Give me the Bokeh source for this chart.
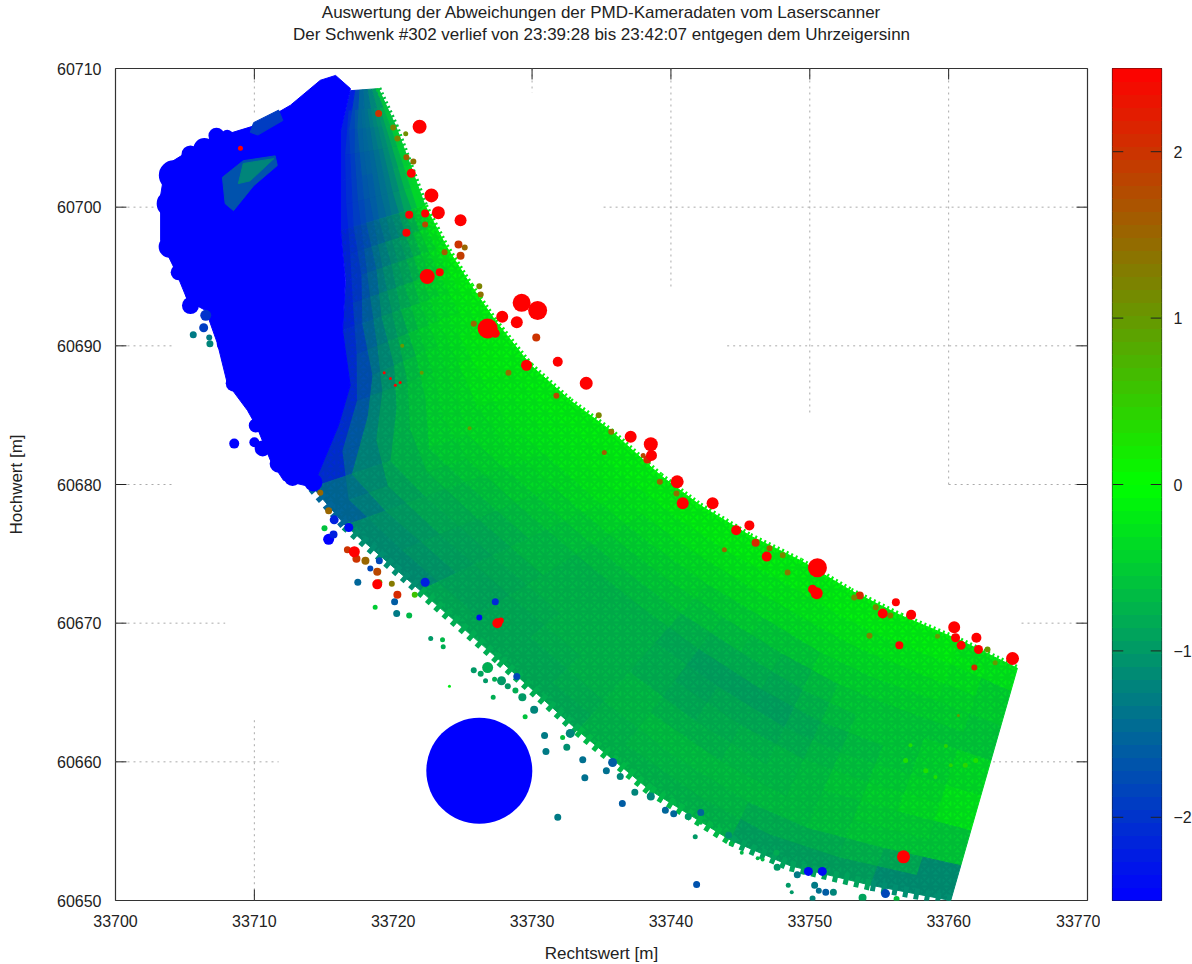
import numpy as np
from bokeh.plotting import figure
from bokeh.layouts import row
from bokeh.embed import file_html
from bokeh.resources import INLINE
from bokeh.models import Range1d, FixedTicker, Title, BasicTickFormatter

TITLE_1 = "Auswertung der Abweichungen der PMD-Kameradaten vom Laserscanner"
TITLE_2 = "Der Schwenk #302 verlief von 23:39:28 bis 23:42:07 entgegen dem Uhrzeigersinn"
X_LABEL = "Rechtswert [m]"
Y_LABEL = "Hochwert [m]"
X_TICKS = [33700, 33710, 33720, 33730, 33740, 33750, 33760, 33770]
Y_TICKS = [60650, 60660, 60670, 60680, 60690, 60700, 60710]
CB_TICKS = [-2, -1, 0, 1, 2]
E0, N0 = 33700, 60650   # all coordinates below are metres from this corner

# swath cross-sections: upper edge and lower edge of the scanned strip
upper_e = [18.94,20.16,21.24,22.3,23.8,25.6,27.35,29.9,32.75,35.65,39.25,42.1,45.7,49.35,52.95,56.55,60.85,64.95]
upper_n = [58.55,55.9,53.0,50.1,47.2,44.35,41.8,38.6,36.05,33.9,30.65,28.5,26.3,24.5,22.35,20.55,18.75,16.75]
lower_e = [16.92,16.2,16.2,16.2,16.6,16.35,16.9,16.05,14.2,16.55,21.95,27.7,33.3,38.5,44.3,48.6,54.4,60.15]
lower_n = [58.4,55.5,51.9,48.3,44.7,41.1,37.15,34.25,29.8,27.05,22.35,17.3,12.25,7.95,4.35,2.5,1.1,0.0]
band_edges = [0, .1, .25, .4, .55, .7, .85, 1]
swath_dev = [
 [-0.6,-1.0,-1.2,-1.4,-1.5,-1.8,-2.2],
 [-0.5,-1.0,-1.3,-1.5,-1.6,-1.9,-2.2],
 [-0.4,-0.9,-1.3,-1.5,-1.7,-1.9,-2.2],
 [-0.2,-0.5,-0.9,-1.1,-1.4,-1.8,-2.2],
 [-0.1,-0.3,-0.5,-0.8,-1.1,-1.6,-2.2],
 [-0.1,-0.2,-0.3,-0.5,-0.9,-1.4,-2.1],
 [-0.1,-0.1,-0.3,-0.4,-0.7,-1.2,-2.1],
 [-0.1,-0.2,-0.3,-0.4,-0.7,-1.2,-2.1],
 [-0.1,-0.2,-0.3,-0.5,-0.7,-1.0,-1.5],
 [-0.1,-0.2,-0.4,-0.6,-0.8,-0.9,-1.1],
 [-0.1,-0.3,-0.5,-0.7,-0.7,-0.8,-0.8],
 [-0.1,-0.3,-0.5,-0.7,-0.7,-0.7,-0.8],
 [-0.1,-0.3,-0.6,-0.9,-0.8,-0.6,-0.7],
 [-0.1,-0.3,-0.7,-0.9,-0.7,-0.6,-0.7],
 [-0.1,-0.3,-0.5,-0.7,-0.6,-0.6,-0.9],
 [-0.1,-0.3,-0.5,-0.5,-0.4,-0.5,-0.9],
 [-0.2,-0.4,-0.5,-0.3,-0.2,-0.5,-1.1],
]
# saturated negative block on the left
blue_e = [15.85,16.92,16.2,16.2,16.2,16.55,16.35,16.9,16.05,14.2,12.1,11.15,10.2,9.5,8.05,7.35,6.5,5.2,4.3,3.25,3.25,3.6,6.5,10.1,12.6,14.75]
blue_n = [59.5,58.55,55.5,51.9,48.3,44.7,41.1,37.15,34.25,29.8,30.3,31.75,34.1,35.35,37.3,40.15,42.55,43.25,45.45,47.6,50.85,53.0,54.8,55.9,57.35,59.15]
# strips of smaller deviation inside the block: (east list, north list, deviation)
strips = [
 ([9.95,11.75,12.05,10.25,9.7], [56.1,57.0,56.25,55.2,55.4], -1.9),
 ([7.7,9.2,11.5,11.65,9.95,8.5,7.9], [52.15,53.35,53.7,53.0,51.55,49.75,50.25], -1.7),
 ([9.2,11.4,9.7,8.85], [53.15,53.5,51.9,51.7], -1.2),
]
# single points: (east, north, deviation, drawn diameter)
big_neg = [
 (26.2,9.35,-2.5,106),(8.04,55.15,-2.5,12),(7.27,55.15,-2.5,16),(5.4,53.8,-2.5,18),(6.4,54.2,-2.5,22),(4.2,52.3,-2.5,30),
 (3.9,50.25,-2.5,26),(3.9,47.15,-2.5,22),(4.55,45.3,-2.5,16),(5.4,42.9,-2.5,17),(5.6,43.75,-2.5,16),(4.4,49,-2.5,24),
 (7.9,40.15,-2.5,17),(8.2,39.1,-2.5,16),(8.55,37.3,-2.5,17),(10.1,34.25,-2.5,14),(10.0,33.05,-2.5,10),
 (8.55,32.95,-2.5,10),(10.6,32.6,-2.5,16),(11.75,31.5,-2.5,18),(12.75,30.5,-2.5,17),(14.25,30.15,-2.5,18),
 (6.5,42.2,-2.0,11),(6.35,41.3,-1.9,9),(5.6,40.8,-1.3,7),(6.8,40.15,-1.2,7),(6.75,40.6,-1.3,6),
]
high_pos = [
 (21.9,55.8,14),(22.75,50.85,14),(23.25,49.6,13),(24.85,49.05,12),(21.3,52.45,9),(22.3,49.55,8),(21.15,49.45,8),
 (20.95,48.15,8),(22.45,45.0,15),(23.35,45.3,8),(29.25,43.1,18),(30.4,42.55,19),(27.85,42.1,12),(28.9,41.7,12),
 (26.8,41.25,20),(27.35,40.9,9),(29.6,38.6,11),(31.85,38.85,10),(33.9,37.3,13),(37.1,33.45,12),(38.55,32.9,14),
 (38.6,32.1,11),(40.45,30.2,13),(40.85,28.65,12),(43.0,28.65,12),(44.7,26.7,10),(45.65,27.05,10),(46.9,24.8,10),
 (50.55,24.0,19),(50.2,22.45,9),(50.5,22.15,12),(56.2,21.5,8),(55.25,20.7,10),(57.3,20.6,10),(60.4,19.7,12),
 (60.5,18.95,9),(60.9,18.4,9),(62.0,18.95,10),(62.15,18.1,9),(64.6,17.45,13),(56.45,18.4,8),(56.75,3.15,13),
 (9.0,54.25,5),(17.2,25.15,11),(18.85,22.8,10),(27.5,20.0,10),(27.75,20.2,6),
 (19.8,37.65,3),(20.15,37.15,3),(19.35,38.05,3),(20.5,37.35,3),
]
mid_pos = [
 (20.3,22.05,2.1,8),(46.1,25.8,2.1,8),(53.6,22.0,2.1,8),(61.85,16.8,2.1,6),(16.7,25.3,2.0,7),
 (18.95,56.75,2.0,7),(20.0,55.75,1.2,6),(20.3,54.95,1.2,6),(20.9,55.3,1.1,5),(20.95,53.6,1.6,6),(21.45,53.3,1.4,6),
 (22.3,48.75,1.8,6),(24.7,47.3,2.0,8),(25.15,47.1,1.5,6),(24.85,46.5,1.9,8),(23.7,46.75,1.6,6),(26.2,44.3,1.2,6),
 (26.3,43.7,1.4,6),(25.8,41.6,1.5,6),(30.3,40.6,2.0,8),(28.3,38.05,1.4,6),(31.75,36.4,1.8,6),(20.65,40.0,1.0,4),
 (22.05,38.05,1.0,4),(25.5,34.05,1.0,4),(34.8,35.0,1.2,6),(35.7,33.8,1.4,6),(35.2,32.3,1.6,5),(38.0,32.1,1.8,5),
 (39.2,30.2,1.5,6),(40.4,29.35,1.4,6),(38.3,31.8,2.1,8),(47.1,25.4,1.6,6),(48.05,24.9,1.2,6),(48.4,23.65,1.3,6),
 (54.75,21.15,1.2,6),(53.2,21.85,1.2,6),(62.8,18.1,1.0,6),(59.2,19.05,1.0,5),(54.3,19.1,1.2,6),(63.35,17.15,1.0,5),
 (55.8,20.55,1.3,6),(43.85,25.3,1.5,5),(17.35,24.65,2.0,8),(18.0,24.5,1.5,8),(18.85,23.7,1.8,8),(19.0,22.95,1.0,6),
 (19.9,22.85,1.3,6),(21.55,22.05,0.6,6),(14.75,29.4,1.5,6),(15.35,28.1,1.5,7),
 (56.9,10.1,0.3,5),(58.35,9.35,0.3,5),(59.8,11.15,0.4,4),(61.2,9.75,0.4,5),(61.95,10.1,0.3,5),(57.25,11.2,0.3,4),
 (59.05,8.9,0.3,4),(60.15,9.75,0.4,4),(60.7,13.35,1.0,3),
]
low_neg = [
 (15.35,26.05,-2.5,11),(15.7,26.4,-2.2,8),(16.8,26.9,-2.4,9),(15.75,27.45,-2.2,9),(15.05,26.85,-0.6,6),
 (19.0,24.5,-1.8,7),(18.35,23.95,-1.8,6),(22.3,22.95,-2.2,9),(17.45,22.95,-1.5,7),(18.7,21.15,-0.5,5),
 (20.1,21.55,-1.6,7),(20.25,20.7,-1.3,7),(21.15,20.55,-0.7,6),(27.35,21.55,-2.1,7),(26.2,20.4,-2.4,6),
 (49.9,2.1,-2.4,9),(50.9,2.1,-2.4,9),(41.85,1.15,-1.7,7),
 (22.7,18.9,-1.0,5),(23.55,18.8,-0.7,5),(23.6,18.3,-0.8,5),(25.8,16.6,-1.0,6),(26.3,16.35,-0.9,6),(26.65,15.85,-1.0,5),
 (26.8,16.8,-0.8,11),(27.3,15.95,-0.8,5),(27.8,15.85,-1.0,9),(28.25,15.45,-1.0,6),(28.9,16.15,-1.8,7),(28.8,15.15,-0.8,6),
 (29.3,14.65,-1.0,8),(30.15,13.75,-1.2,8),(30.9,11.9,-1.3,7),(31.0,10.75,-1.3,7),(32.5,11.05,-1.1,7),(31.85,6.0,-1.3,7),
 (27.2,14.65,-0.8,5),(29.5,13.25,-0.6,5),(24.05,15.45,-0.2,3),(32.2,11.75,-0.6,5),(32.75,12.05,-1.2,9),(33.65,10.15,-1.4,7),
 (33.8,8.85,-1.4,7),(35.35,9.35,-1.4,7),(35.8,9.95,-1.6,9),(36.35,8.95,-1.2,7),(36.5,7.0,-1.6,7),(37.4,7.8,-1.2,7),
 (38.55,7.5,-1.2,8),(39.6,6.5,-1.5,7),(40.2,6.25,-1.5,7),(41.25,6.05,-1.0,7),(42.15,6.35,-1.5,7),(41.75,4.6,-1.0,5),
 (42.15,5.6,-0.7,4),(44.15,4.7,-1.1,7),(44.35,4.1,-0.7,5),(45.1,3.45,-0.7,4),(46.25,3.05,-0.7,4),(46.6,2.95,-0.7,4),
 (47.6,3.45,-0.8,6),(47.65,2.4,-1.0,7),(48.45,1.1,-1.0,5),(48.7,0.6,-1.0,4),(49.1,1.85,-1.3,7),(50.35,1.1,-1.3,7),
 (50.65,0.7,-1.4,6),(51.15,0.6,-1.6,7),(51.7,0.6,-1.2,7),(50.2,0.15,-1.2,6),(53.8,0.2,-0.9,8),(55.45,0.5,-1.8,9),(56.25,0.1,-0.6,6),
]
# the parts of the dotted grid that are visible
grid_v = [(10,60,56.6),(10,13,0),(30,60,58.25),(40,60,44),(50,60,35.1),(60,60,30)]
grid_h = [(50,0,3.25),(50,35.15,70),(40,0,4.05),(40,44.05,70),(30,0,4.05),(30,60,70),(20,0,7.9),(20,65.25,70),(10,0,11.75),(10,63.2,70)]
tick_top = [10, 30, 40, 50, 60]
tick_bottom = [10, 60]
tick_side = [10, 20, 30, 40, 50]

FONT = "Liberation Sans"
TXT = "#222222"

def dev_color(v):
    t = min(abs(v) / 2.5, 1.0)
    g = int(round(255 * (1 - t)))
    s = int(round(255 * t))
    return "#%02x%02x%02x" % ((s, g, 0) if v > 0 else (0, g, s))

p = figure(frame_width=972, frame_height=832, output_backend="svg", toolbar_location=None,
           x_range=Range1d(E0, E0 + 70), y_range=Range1d(N0, N0 + 60),
           min_border_left=115, min_border_right=13, min_border_top=68, min_border_bottom=60,
           x_axis_label=X_LABEL, y_axis_label=Y_LABEL)
p.grid.visible = False
p.outline_line_color = "#333333"
p.outline_line_width = 1.2
for ax, ticks in ((p.xaxis[0], X_TICKS), (p.yaxis[0], Y_TICKS)):
    ax.ticker = FixedTicker(ticks=ticks)
    ax.formatter = BasicTickFormatter(use_scientific=False)
    ax.major_tick_in = 0
    ax.major_tick_out = 0
    ax.minor_tick_in = 0
    ax.minor_tick_out = 0
    ax.axis_line_color = None
    ax.major_label_text_font = FONT
    ax.major_label_text_font_size = "16px"
    ax.major_label_text_color = TXT
    ax.axis_label_text_font = FONT
    ax.axis_label_text_font_size = "17px"
    ax.axis_label_text_font_style = "normal"
    ax.axis_label_text_color = TXT
p.xaxis[0].major_label_standoff = 14
p.xaxis[0].axis_label_standoff = 14
p.yaxis[0].major_label_standoff = 14
p.yaxis[0].axis_label_standoff = 28

title_style = dict(align="center", offset=4, text_font=FONT, text_font_size="17px",
                   text_font_style="normal", text_color=TXT)
p.title = Title(text=TITLE_1, standoff=1, **title_style)
p.add_layout(Title(text=" ", standoff=4, **title_style), "above")
p.add_layout(Title(text=TITLE_2, standoff=0, **title_style), "above")

# grid
gx0 = [E0 + g[0] for g in grid_v] + [E0 + g[1] for g in grid_h]
gx1 = [E0 + g[0] for g in grid_v] + [E0 + g[2] for g in grid_h]
gy0 = [N0 + g[1] for g in grid_v] + [N0 + g[0] for g in grid_h]
gy1 = [N0 + g[2] for g in grid_v] + [N0 + g[0] for g in grid_h]
p.segment(gx0, gy0, gx1, gy1, line_color="#aaaaaa", line_width=1, line_dash="2 4")

# ticks (inward, only where the reference shows them)
TL = 0.79
tx0 = [E0 + t for t in tick_top] + [E0 + t for t in tick_bottom] + [E0] * len(tick_side) + [E0 + 70] * len(tick_side)
tx1 = [E0 + t for t in tick_top] + [E0 + t for t in tick_bottom] + [E0 + TL] * len(tick_side) + [E0 + 70 - TL] * len(tick_side)
ty0 = [N0 + 60] * len(tick_top) + [N0] * len(tick_bottom) + [N0 + t for t in tick_side] * 2
ty1 = [N0 + 60 - TL] * len(tick_top) + [N0 + TL] * len(tick_bottom) + [N0 + t for t in tick_side] * 2
p.segment(tx0, ty0, tx1, ty1, line_color="#222222", line_width=1)

def pt(k, t):
    return (upper_e[k] + (lower_e[k] - upper_e[k]) * t, upper_n[k] + (lower_n[k] - upper_n[k]) * t)

# swath mesh
xs, ys, cols = [], [], []
for i, row_vals in enumerate(swath_dev):
    for j, v in enumerate(row_vals):
        a, b = band_edges[j], band_edges[j + 1]
        q = [pt(i, a), pt(i + 1, a), pt(i + 1, b), pt(i, b)]
        xs.append([E0 + c[0] for c in q])
        ys.append([N0 + c[1] for c in q])
        cols.append(dev_color(v))
p.patches(xs, ys, fill_color=cols, line_color=cols, line_width=1)

# the same readings once more, half a cell further on and half covering, to soften the cell borders
xs2, ys2, cols2 = [], [], []
for i, row_vals in enumerate(swath_dev[:-1]):
    for j, v in enumerate(row_vals[:-1]):
        a = (band_edges[j] + band_edges[j + 1]) / 2
        b = (band_edges[j + 1] + band_edges[j + 2]) / 2
        p00, p01 = pt(i, a), pt(i + 1, a)
        p10, p11 = pt(i, b), pt(i + 1, b)
        p20, p21 = pt(i + 2, a), pt(i + 2, b)
        q = [((p00[0] + p01[0]) / 2, (p00[1] + p01[1]) / 2), ((p01[0] + p20[0]) / 2, (p01[1] + p20[1]) / 2),
             ((p11[0] + p21[0]) / 2, (p11[1] + p21[1]) / 2), ((p10[0] + p11[0]) / 2, (p10[1] + p11[1]) / 2)]
        xs2.append([E0 + c[0] for c in q])
        ys2.append([N0 + c[1] for c in q])
        cols2.append(dev_color(v))
p.patches(xs2, ys2, fill_color=cols2, fill_alpha=0.5, line_color=None)

# lattice texture of the scan on top of the colour field
p.patch([E0 + v for v in upper_e[3:]] + [E0 + v for v in lower_e[3:][::-1]],
        [N0 + v for v in upper_n[3:]] + [N0 + v for v in lower_n[3:][::-1]],
        fill_color=None, fill_alpha=0, line_color=None,
        hatch_pattern="criss_cross", hatch_color="#004a50", hatch_alpha=0.13, hatch_scale=11, hatch_weight=2.5)

# ragged outer edges of the scan
p.multi_line([[E0 + upper_e[i], E0 + upper_e[i + 1]] for i in range(0, 17)],
             [[N0 + upper_n[i], N0 + upper_n[i + 1]] for i in range(0, 17)],
             line_color=[dev_color(swath_dev[i][0]) for i in range(0, 17)], line_width=6, line_dash="2 3")
p.multi_line([[E0 + lower_e[i], E0 + lower_e[i + 1]] for i in range(8, 17)],
             [[N0 + lower_n[i], N0 + lower_n[i + 1]] for i in range(8, 17)],
             line_color=[dev_color(swath_dev[i][6]) for i in range(8, 17)], line_width=11, line_dash="5 6")

# saturated block
p.patch([E0 + v for v in blue_e], [N0 + v for v in blue_n], fill_color="#0000ff", line_color="#0000ff")
for se, sn, d in strips:
    p.patch([E0 + v for v in se], [N0 + v for v in sn], fill_color=dev_color(d), line_color=dev_color(d))

# points
for group in (big_neg, low_neg, mid_pos):
    p.scatter([E0 + g[0] for g in group], [N0 + g[1] for g in group], size=[g[3] for g in group],
              marker="circle", fill_color=[dev_color(g[2]) for g in group], line_color=None)
p.scatter([E0 + g[0] for g in high_pos], [N0 + g[1] for g in high_pos], size=[g[2] for g in high_pos],
          marker="circle", fill_color="#ff0000", line_color=None)

# colour bar
levels = np.linspace(-2.5, 2.5, 65)
bar = figure(frame_width=49, frame_height=832, output_backend="svg", toolbar_location=None,
             x_range=Range1d(0, 1), y_range=Range1d(-2.5, 2.5), y_axis_location="right",
             min_border_left=12, min_border_right=30, min_border_top=68, min_border_bottom=60)
bar.grid.visible = False
bar.xaxis.visible = False
bar.outline_line_color = "#111111"
bar.outline_line_width = 1.2
bax = bar.yaxis[0]
bax.ticker = FixedTicker(ticks=CB_TICKS)
bax.major_tick_in = 0
bax.major_tick_out = 0
bax.minor_tick_in = 0
bax.minor_tick_out = 0
bax.axis_line_color = None
bax.major_label_standoff = 12
bax.major_label_text_font = FONT
bax.major_label_text_font_size = "16px"
bax.major_label_text_color = TXT
mids = (levels[:-1] + levels[1:]) / 2
bar_cols = [dev_color(v) for v in mids]
bar.quad(left=0, right=1, bottom=levels[:-1], top=levels[1:], fill_color=bar_cols, line_color=bar_cols)
bx0 = [0.0] * len(CB_TICKS) + [0.78] * len(CB_TICKS)
bx1 = [0.22] * len(CB_TICKS) + [1.0] * len(CB_TICKS)
by = CB_TICKS + CB_TICKS
bar.segment(bx0, by, bx1, by, line_color="#222222", line_width=1)

page = row(p, bar, spacing=0)
open("out.html", "w").write(file_html(page, INLINE))
